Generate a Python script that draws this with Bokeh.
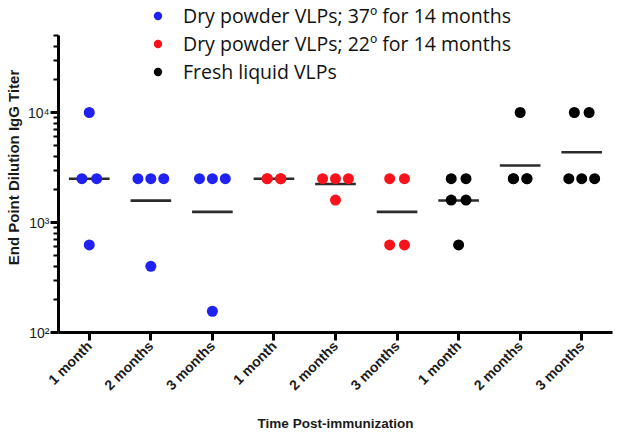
import math
from bokeh.plotting import figure
from bokeh.models import Range1d, FixedTicker, Legend, LegendItem
from bokeh.embed import file_html
from bokeh.resources import INLINE

# ---------------- data ----------------
tick_labels = ["1 month", "2 months", "3 months",
               "1 month", "2 months", "3 months",
               "1 month", "2 months", "3 months"]
group_series = [0, 0, 0, 1, 1, 1, 2, 2, 2]
series_names = ["Dry powder VLPs; 37\u00ba for 14 months",
                "Dry powder VLPs; 22\u00ba for 14 months",
                "Fresh liquid VLPs"]
series_colors = ["#1f22f2", "#f8121c", "#000000"]

titers = [
    [10000, 2500, 2500, 625],
    [2500, 2500, 2500, 400],
    [2500, 2500, 2500, 156],
    [2500, 2500, 2500, 2500],
    [2500, 2500, 2500, 1600],
    [2500, 2500, 625, 625],
    [2500, 2500, 1600, 1600, 625],
    [10000, 2500, 2500, 2500, 2500],
    [10000, 10000, 2500, 2500, 2500],
]

y_axis_min, y_axis_max = 100, 50000
y_major = [100, 1000, 10000]
y_major_labels = ["10\u00b2", "10\u00b3", "10\u2074"]

# ---------------- layout helpers ----------------
def spread(n):
    if n == 1:
        return [0.0]
    if n == 2:
        return [-0.12, 0.12]
    if n == 3:
        return [-0.21, 0.0, 0.21]
    return [(-0.11 if k % 2 == 0 else 0.11) for k in range(n)]

def geomean(vals):
    return 10 ** (sum(math.log10(v) for v in vals) / len(vals))

FONT = "Liberation Sans"
TXT = "#1a1a1a"

# the frame reaches the top of the canvas so that the legend (which sits
# above the end of the y axis) is not clipped; the axis itself is bounded.
p = figure(width=620, height=437,
           x_range=Range1d(0.5, 9.5), y_range=Range1d(100, 100000),
           y_axis_type="log", output_backend="svg", toolbar_location=None,
           min_border_left=58, min_border_right=8, min_border_top=2,
           min_border_bottom=105)
p.xgrid.visible = False
p.ygrid.visible = False
p.outline_line_color = None
p.background_fill_color = "white"
p.border_fill_color = "white"

# mean lines (geometric mean)
mx0, mx1, my = [], [], []
for i, vals in enumerate(titers):
    g = geomean(vals)
    mx0.append(i + 1 - 0.33)
    mx1.append(i + 1 + 0.33)
    my.append(g)
p.segment(x0=mx0, x1=mx1, y0=my, y1=my, line_color="#2b2b2b", line_width=2.6)

# points
renderers = []
for s in range(3):
    xs, ys = [], []
    for i, vals in enumerate(titers):
        if group_series[i] != s:
            continue
        uniq = []
        for v in vals:
            if v not in uniq:
                uniq.append(v)
        for u in uniq:
            n = vals.count(u)
            for off in spread(n):
                xs.append(i + 1 + off)
                ys.append(u)
    r = p.scatter(x=xs, y=ys, size=11, fill_color=series_colors[s],
                  line_color=series_colors[s], line_width=0)
    renderers.append(r)

items = [LegendItem(label=series_names[s], renderers=[renderers[s]]) for s in range(3)]
legend = Legend(items=items, location=(89, 247), orientation="vertical",
                padding=0, margin=0, spacing=1, glyph_width=21, glyph_height=21,
                label_height=21, label_standoff=15,
                label_text_font="Open Sans", label_text_font_size="19.5px",
                label_text_color="#111111",
                border_line_color=None, background_fill_alpha=0)
p.add_layout(legend, "center")

# axes
xa = p.xaxis[0]
xa.ticker = FixedTicker(ticks=list(range(1, 10)))
xa.major_label_overrides = {i + 1: lab for i, lab in enumerate(tick_labels)}
xa.major_label_orientation = math.pi / 4
xa.major_label_text_font = FONT
xa.major_label_text_font_style = "bold"
xa.major_label_text_font_size = "14px"
xa.major_label_text_color = TXT
xa.major_label_standoff = 3
xa.axis_line_width = 3
xa.axis_line_color = "black"
xa.major_tick_line_width = 3
xa.major_tick_out = 8
xa.major_tick_in = 0
xa.minor_tick_line_color = None
xa.axis_label = "Time Post-immunization"
xa.axis_label_text_font = FONT
xa.axis_label_text_font_style = "bold"
xa.axis_label_text_font_size = "13.5px"
xa.axis_label_text_color = TXT
xa.axis_label_standoff = 14

ya = p.yaxis[0]
minor = [k * 10 ** e for e in (2, 3, 4) for k in range(2, 10)
         if k * 10 ** e <= y_axis_max]
ya.bounds = (y_axis_min, y_axis_max)
ya.ticker = FixedTicker(ticks=y_major, minor_ticks=minor)
ya.major_label_overrides = {v: lab for v, lab in zip(y_major, y_major_labels)}
ya.major_label_text_font = FONT
ya.major_label_text_font_size = "14px"
ya.major_label_text_color = TXT
ya.major_label_standoff = 1
ya.axis_line_width = 3
ya.axis_line_color = "black"
ya.major_tick_line_width = 3
ya.major_tick_out = 8
ya.major_tick_in = 0
ya.minor_tick_line_width = 2
ya.minor_tick_out = 5
ya.minor_tick_in = 0
ya.axis_label = "End Point Dilution IgG Titer"
ya.axis_label_text_font = FONT
ya.axis_label_text_font_style = "bold"
ya.axis_label_text_font_size = "15px"
ya.axis_label_text_color = TXT
ya.axis_label_standoff = 3

open("out.html", "w").write(file_html(p, INLINE))
